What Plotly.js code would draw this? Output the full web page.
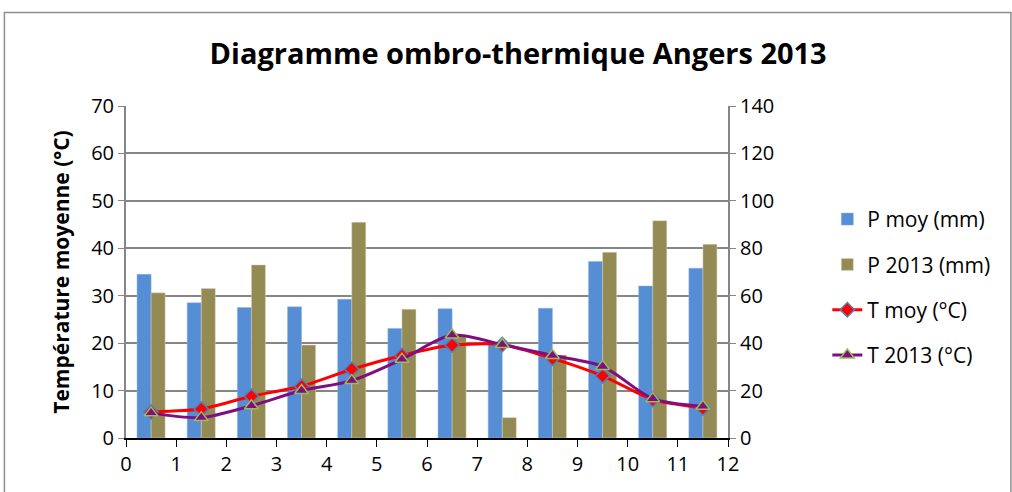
<!DOCTYPE html>
<html>
<head>
<meta charset="utf-8">
<script src="https://cdn.plot.ly/plotly-3.0.1.min.js"></script>
<style>
html,body{margin:0;padding:0;background:#fff;}
#chart{width:1012px;height:492px;}
</style>
</head>
<body>
<div id="chart"></div>
<script>
const months = [1,2,3,4,5,6,7,8,9,10,11,12];
const pMoy   = [69, 57, 55, 55.3, 58.5, 46.2, 54.5, 39.3, 54.7, 74.4, 64.1, 71.6];
const p2013  = [61.2, 63, 73, 39.2, 91, 54.3, 43.5, 8.6, 35, 78.3, 91.6, 81.7];
const tMoy   = [5.5, 6.1, 8.8, 10.9, 14.5, 17.4, 19.6, 19.7, 16.8, 13.1, 8.1, 6.3];
const t2013  = [5.3, 4.3, 6.8, 10.0, 12.1, 16.6, 21.7, 19.7, 17.4, 15.1, 8.3, 6.7];
const xPos = months.map(m => m - 0.5);

const FONT = '"Open Sans", Lato, sans-serif';

const traces = [
  {type:'bar', name:'P moy (mm)', x:xPos, y:pMoy, yaxis:'y',
   marker:{color:'#558ED5', line:{color:'#8DB3E2', width:0.5}}, legendgroup:'a'},
  {type:'bar', name:'P 2013 (mm)', x:xPos, y:p2013, yaxis:'y',
   marker:{color:'#948A54', line:{color:'#DDD9C3', width:0.5}}, legendgroup:'b'},
  {type:'scatter', mode:'lines+markers', name:'T moy (°C)', x:xPos, y:tMoy, yaxis:'y2',
   line:{color:'#FF0000', width:3, shape:'spline', smoothing:0.6},
   marker:{symbol:'diamond', size:11, color:'#FF0000', line:{color:'#4F81BD', width:1.5}}, legendgroup:'c'},
  {type:'scatter', mode:'lines+markers', name:'T 2013 (°C)', x:xPos, y:t2013, yaxis:'y2',
   line:{color:'#7F0F7F', width:3, shape:'spline', smoothing:0.8},
   marker:{symbol:'triangle-up', size:12, color:'#7F0F7F', line:{color:'#9BBB59', width:1.5}}, legendgroup:'d'}
];

const layout = {
  width:1012, height:492,
  margin:{l:126, r:284, t:106, b:54, pad:0},
  paper_bgcolor:'#ffffff', plot_bgcolor:'#ffffff',
  font:{family:FONT, size:20, color:'#000'},
  title:{text:'<b>Diagramme ombro-thermique Angers 2013</b>', x:0.512, xref:'container', xanchor:'center',
         y:0.89, yanchor:'middle', yref:'container', font:{family:FONT, size:29, color:'#000'}},
  barmode:'group', bargap:0.44, bargroupgap:0,
  showlegend:true,
  legend:{x:1.165, xanchor:'left', y:0.72, yanchor:'top', font:{family:FONT, size:21},
          tracegroupgap:15, traceorder:'grouped', bgcolor:'rgba(0,0,0,0)'},
  xaxis:{range:[0,12], dtick:1, tick0:0, showgrid:false, zeroline:false,
         showline:true, linecolor:'#000', linewidth:1.5, ticks:'outside', ticklen:7,
         tickcolor:'#000', tickfont:{family:FONT, size:20}},
  yaxis:{side:'right', range:[0,140], dtick:20, showgrid:true, gridcolor:'#868686', gridwidth:2,
         zeroline:false, showline:true, linecolor:'#868686', linewidth:2, ticks:'outside',
         ticklen:6, tickcolor:'#868686', tickfont:{family:FONT, size:20}},
  yaxis2:{overlaying:'y', side:'left', range:[0,70], dtick:10, showgrid:false, zeroline:false,
          showline:true, linecolor:'#868686', linewidth:2, ticks:'outside', ticklen:6,
          tickcolor:'#868686', tickfont:{family:FONT, size:20},
          title:{text:'<b>Température moyenne (°C)</b>', font:{family:FONT, size:21}, standoff:16}},
  shapes:[{type:'rect', xref:'paper', yref:'paper', x0:-0.202, x1:1.47, y0:-0.3, y1:1.282,
           line:{color:'#8c8c8c', width:1.5}, fillcolor:'rgba(0,0,0,0)', layer:'above'}]
};

Plotly.newPlot('chart', traces, layout, {staticPlot:true, displayModeBar:false});
</script>
</body>
</html>
